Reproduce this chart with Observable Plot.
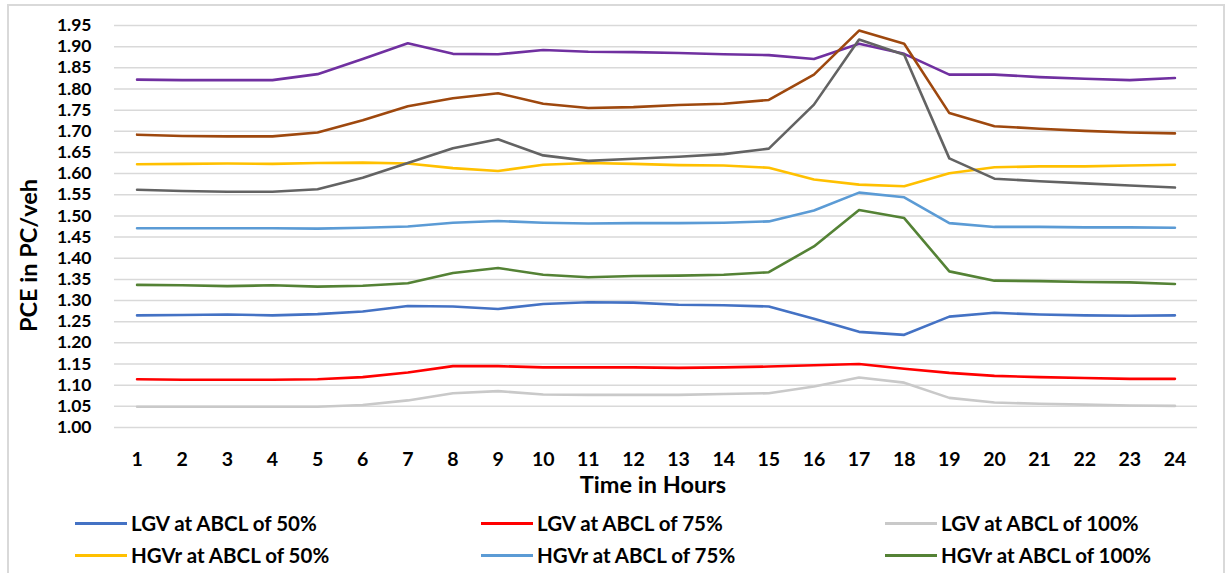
<!DOCTYPE html>
<html>
<head>
<meta charset="utf-8">
<script src="https://cdn.jsdelivr.net/npm/d3@7"></script>
<script src="https://cdn.jsdelivr.net/npm/@observablehq/plot@0.6"></script>
<style>
  html, body { margin: 0; padding: 0; background: #fff; overflow: hidden; }
  #wrap { position: relative; width: 1229px; height: 573px; font-family: Lato, "Open Sans", sans-serif; }
  #frame { position: absolute; left: 7px; top: 4px; width: 1214px; height: 620px;
           border: 2px solid #d9d9d9; pointer-events: none; }
  #chart svg { display: block; }
  #legend { position: absolute; left: 0; top: 0; width: 1229px; height: 573px; pointer-events: none; }
  .item { position: absolute; display: flex; align-items: center; height: 30px;
          font-weight: 700; font-size: 20.5px; color: #000; white-space: nowrap; }
  .sw { width: 52px; height: 0; border-top: 3px solid; margin-right: 4px; }
</style>
</head>
<body>
<div id="wrap">
  <div id="chart"></div>
  <div id="legend"></div>
  <div id="frame"></div>
</div>
<script>
// Hours of the day
const hours = [1, 2, 3, 4, 5, 6, 7, 8, 9, 10, 11, 12, 13, 14, 15, 16, 17, 18, 19, 20, 21, 22, 23, 24];

// PCE values (PC/veh) per hour
const lgv50   = [1.265, 1.266, 1.267, 1.265, 1.268, 1.274, 1.287, 1.286, 1.280, 1.292, 1.296, 1.295, 1.290, 1.289, 1.286, 1.257, 1.226, 1.219, 1.262, 1.271, 1.267, 1.265, 1.264, 1.265];
const lgv75   = [1.114, 1.113, 1.113, 1.113, 1.114, 1.119, 1.130, 1.145, 1.145, 1.142, 1.142, 1.142, 1.141, 1.142, 1.144, 1.147, 1.150, 1.139, 1.129, 1.122, 1.119, 1.117, 1.115, 1.115];
const lgv100  = [1.049, 1.049, 1.049, 1.049, 1.049, 1.053, 1.064, 1.081, 1.086, 1.078, 1.077, 1.077, 1.077, 1.079, 1.081, 1.097, 1.118, 1.106, 1.070, 1.059, 1.056, 1.054, 1.052, 1.051];
const hgvr50  = [1.622, 1.623, 1.624, 1.623, 1.625, 1.626, 1.624, 1.613, 1.606, 1.621, 1.625, 1.623, 1.620, 1.619, 1.614, 1.586, 1.574, 1.570, 1.601, 1.615, 1.617, 1.617, 1.619, 1.621];
const hgvr75  = [1.471, 1.471, 1.471, 1.471, 1.470, 1.472, 1.475, 1.484, 1.488, 1.484, 1.482, 1.483, 1.483, 1.484, 1.487, 1.513, 1.555, 1.544, 1.483, 1.474, 1.474, 1.473, 1.473, 1.472];
const hgvr100 = [1.337, 1.336, 1.334, 1.336, 1.333, 1.335, 1.341, 1.365, 1.377, 1.361, 1.355, 1.358, 1.359, 1.361, 1.367, 1.428, 1.514, 1.495, 1.369, 1.347, 1.346, 1.344, 1.343, 1.339];
const series7 = [1.822, 1.821, 1.821, 1.821, 1.835, 1.871, 1.908, 1.883, 1.882, 1.892, 1.888, 1.887, 1.885, 1.882, 1.880, 1.871, 1.907, 1.883, 1.834, 1.834, 1.828, 1.824, 1.821, 1.826];
const series8 = [1.692, 1.689, 1.688, 1.688, 1.697, 1.726, 1.759, 1.778, 1.790, 1.765, 1.755, 1.757, 1.762, 1.765, 1.774, 1.834, 1.938, 1.907, 1.743, 1.712, 1.706, 1.701, 1.697, 1.695];
const series9 = [1.562, 1.559, 1.557, 1.557, 1.563, 1.590, 1.625, 1.660, 1.681, 1.643, 1.630, 1.635, 1.640, 1.646, 1.659, 1.763, 1.917, 1.881, 1.636, 1.588, 1.582, 1.577, 1.572, 1.567];

const seriesNames = [
  "LGV at ABCL of 50%", "LGV at ABCL of 75%", "LGV at ABCL of 100%",
  "HGVr at ABCL of 50%", "HGVr at ABCL of 75%", "HGVr at ABCL of 100%",
  "Series 7", "Series 8", "Series 9"
];
const seriesValues = [lgv50, lgv75, lgv100, hgvr50, hgvr75, hgvr100, series7, series8, series9];
const seriesColors = ["#4472c4", "#ff0000", "#c9c9c9", "#ffc000", "#5b9bd5", "#548235", "#7030a0", "#9e480e", "#636363"];
const legendNames = seriesNames.slice(0, 6);

const yTicks = [1.00, 1.05, 1.10, 1.15, 1.20, 1.25, 1.30, 1.35, 1.40, 1.45, 1.50, 1.55, 1.60, 1.65, 1.70, 1.75, 1.80, 1.85, 1.90, 1.95];
const xTitle = "Time in Hours";
const yTitle = "PCE in PC/veh";

// Long table: one row per series and hour
const rows = seriesNames.flatMap((name, i) =>
  hours.map((h, j) => ({series: name, hour: h, value: seriesValues[i][j]}))
);

const chart = Plot.plot({
  width: 1229,
  height: 505,
  marginTop: 25,
  marginBottom: 78,
  marginLeft: 114,
  marginRight: 32,
  style: {fontFamily: "Lato, 'Open Sans', sans-serif", fontWeight: "700", color: "#000", background: "transparent"},
  x: {type: "linear", domain: [0.5, 24.5]},
  y: {domain: [1.00, 1.95]},
  color: {domain: seriesNames, range: seriesColors},
  marks: [
    Plot.gridY(yTicks, {stroke: "#d9d9d9", strokeOpacity: 1, strokeWidth: 1.5}),
    Plot.line(rows, {x: "hour", y: "value", z: "series", stroke: "series", strokeWidth: 2.6, strokeLinejoin: "round"}),
    Plot.axisY(yTicks, {tickSize: 0, tickPadding: 23, tickFormat: d => d.toFixed(2), fontSize: 17.5, label: null}),
    Plot.axisX(hours, {tickSize: 0, tickPadding: 25, tickFormat: d => String(d), fontSize: 19.5, label: null}),
    // axis titles
    Plot.text([yTitle], {frameAnchor: "left", textAnchor: "middle", lineAnchor: "middle", rotate: -90, dx: -85, dy: 29, fontSize: 23.5, fontWeight: 700, fill: "#000"}),
    Plot.text([xTitle], {frameAnchor: "bottom", textAnchor: "middle", lineAnchor: "middle", dx: -3, dy: 58, fontSize: 23.5, fontWeight: 700, fill: "#000"})
  ]
});
document.getElementById("chart").appendChild(chart);

// Legend below the chart: 3 columns x 2 rows
const legend = document.getElementById("legend");
const colLeft = [75, 481, 885];
const rowTop = [508, 540];
legendNames.forEach((name, i) => {
  const item = document.createElement("div");
  item.className = "item";
  item.style.left = colLeft[i % 3] + "px";
  item.style.top = rowTop[Math.floor(i / 3)] + "px";
  const sw = document.createElement("div");
  sw.className = "sw";
  sw.style.borderTopColor = seriesColors[seriesNames.indexOf(name)];
  const label = document.createElement("span");
  label.textContent = name;
  item.appendChild(sw);
  item.appendChild(label);
  legend.appendChild(item);
});
</script>
</body>
</html>
